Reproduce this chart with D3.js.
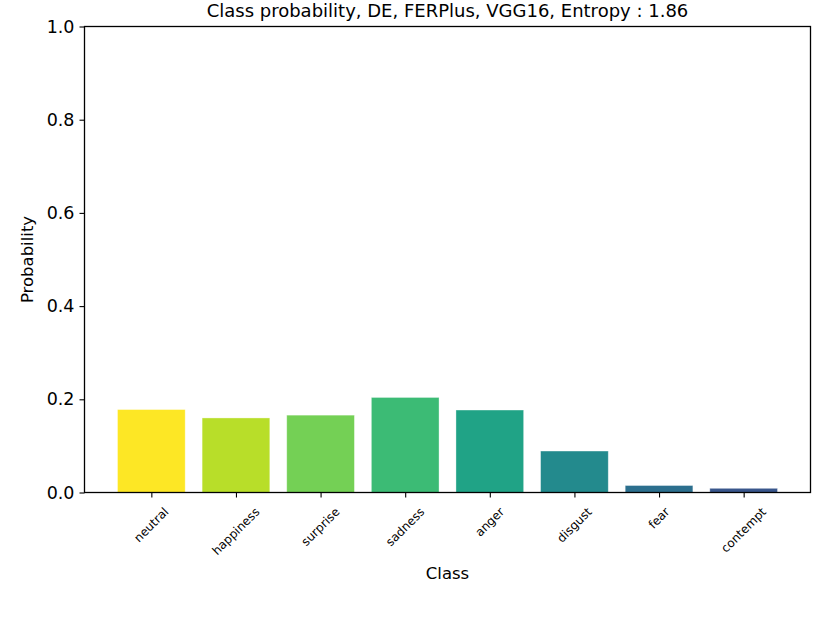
<!DOCTYPE html>
<html>
<head>
<meta charset="utf-8">
<script src="https://cdn.jsdelivr.net/npm/d3@7"></script>
<style>
  body { margin: 0; background: #fff; }
  text { font-family: "DejaVu Sans", sans-serif; fill: #000; }
</style>
</head>
<body>
<svg id="chart" width="830" height="623"></svg>
<script>
// values
const classes = ["neutral", "happiness", "surprise", "sadness", "anger", "disgust", "fear", "contempt"];
const probs = [0.178, 0.160, 0.166, 0.204, 0.177, 0.089, 0.015, 0.009];
const barColors = ["#fde725", "#b8de29", "#74d055", "#3cbb75", "#20a386", "#238a8d", "#2c6f8e", "#39568c"];
const yTicks = [0.0, 0.2, 0.4, 0.6, 0.8, 1.0];

const svg = d3.select("#chart");
const plotLeft = 84.5, plotRight = 810.5, plotTop = 26.5, plotBottom = 492.5;

// matplotlib-like x range: bars width 0.8, 5% margin
const x = d3.scaleLinear().domain([-0.79, classes.length - 1 + 0.79]).range([plotLeft, plotRight]);
const y = d3.scaleLinear().domain([0, 1]).range([plotBottom, plotTop]);

// bars
svg.selectAll("rect.bar")
    .data(probs)
    .enter()
    .append("rect")
    .attr("class", "bar")
    .attr("x", (d, i) => x(i - 0.4))
    .attr("width", (d, i) => x(i + 0.4) - x(i - 0.4))
    .attr("y", d => y(d))
    .attr("height", d => y(0) - y(d))
    .attr("fill", (d, i) => barColors[i])
    .attr("stroke", "rgba(255,255,255,0.45)")
    .attr("stroke-width", 0.8);

// y axis
const yAxis = svg.append("g")
    .attr("transform", `translate(${plotLeft},0)`)
    .call(d3.axisLeft(y).tickValues(yTicks).tickFormat(d3.format(".1f")).tickSize(5).tickPadding(5));
yAxis.select(".domain").remove();
yAxis.selectAll("line").attr("stroke", "#000").attr("stroke-width", 1.1);
yAxis.selectAll("text").style("font-size", "17.5px");

// x axis
const xAxis = svg.append("g")
    .attr("transform", `translate(0,${plotBottom})`)
    .call(d3.axisBottom(x).tickValues(d3.range(classes.length)).tickSize(5).tickFormat(""));
xAxis.select(".domain").remove();
xAxis.selectAll("line").attr("stroke", "#000").attr("stroke-width", 1.1);

// rotated category labels, centred under the tick like matplotlib rotation=45
classes.forEach((c, i) => {
    const t = svg.append("text")
        .style("font-size", "12px")
        .attr("text-anchor", "middle")
        .attr("dominant-baseline", "central")
        .text(c);
    const w = t.node().getComputedTextLength();
    const h = 12;
    const cy = plotBottom + 13 + (w + h) / (2 * Math.SQRT2);
    t.attr("transform", `translate(${x(i)},${cy}) rotate(-45)`);
});

// frame
svg.append("rect")
    .attr("x", plotLeft).attr("y", plotTop)
    .attr("width", plotRight - plotLeft).attr("height", plotBottom - plotTop)
    .attr("fill", "none").attr("stroke", "#000").attr("stroke-width", 1.3);

// labels
svg.append("text")
    .attr("x", (plotLeft + plotRight) / 2).attr("y", 17)
    .attr("text-anchor", "middle")
    .style("font-size", "18px")
    .text("Class probability, DE, FERPlus, VGG16, Entropy : 1.86");

svg.append("text")
    .attr("x", (plotLeft + plotRight) / 2).attr("y", 579)
    .attr("text-anchor", "middle")
    .style("font-size", "16.5px")
    .text("Class");

svg.append("text")
    .attr("transform", `translate(33,${(plotTop + plotBottom) / 2}) rotate(-90)`)
    .attr("text-anchor", "middle")
    .style("font-size", "16.5px")
    .text("Probability");
</script>
</body>
</html>
